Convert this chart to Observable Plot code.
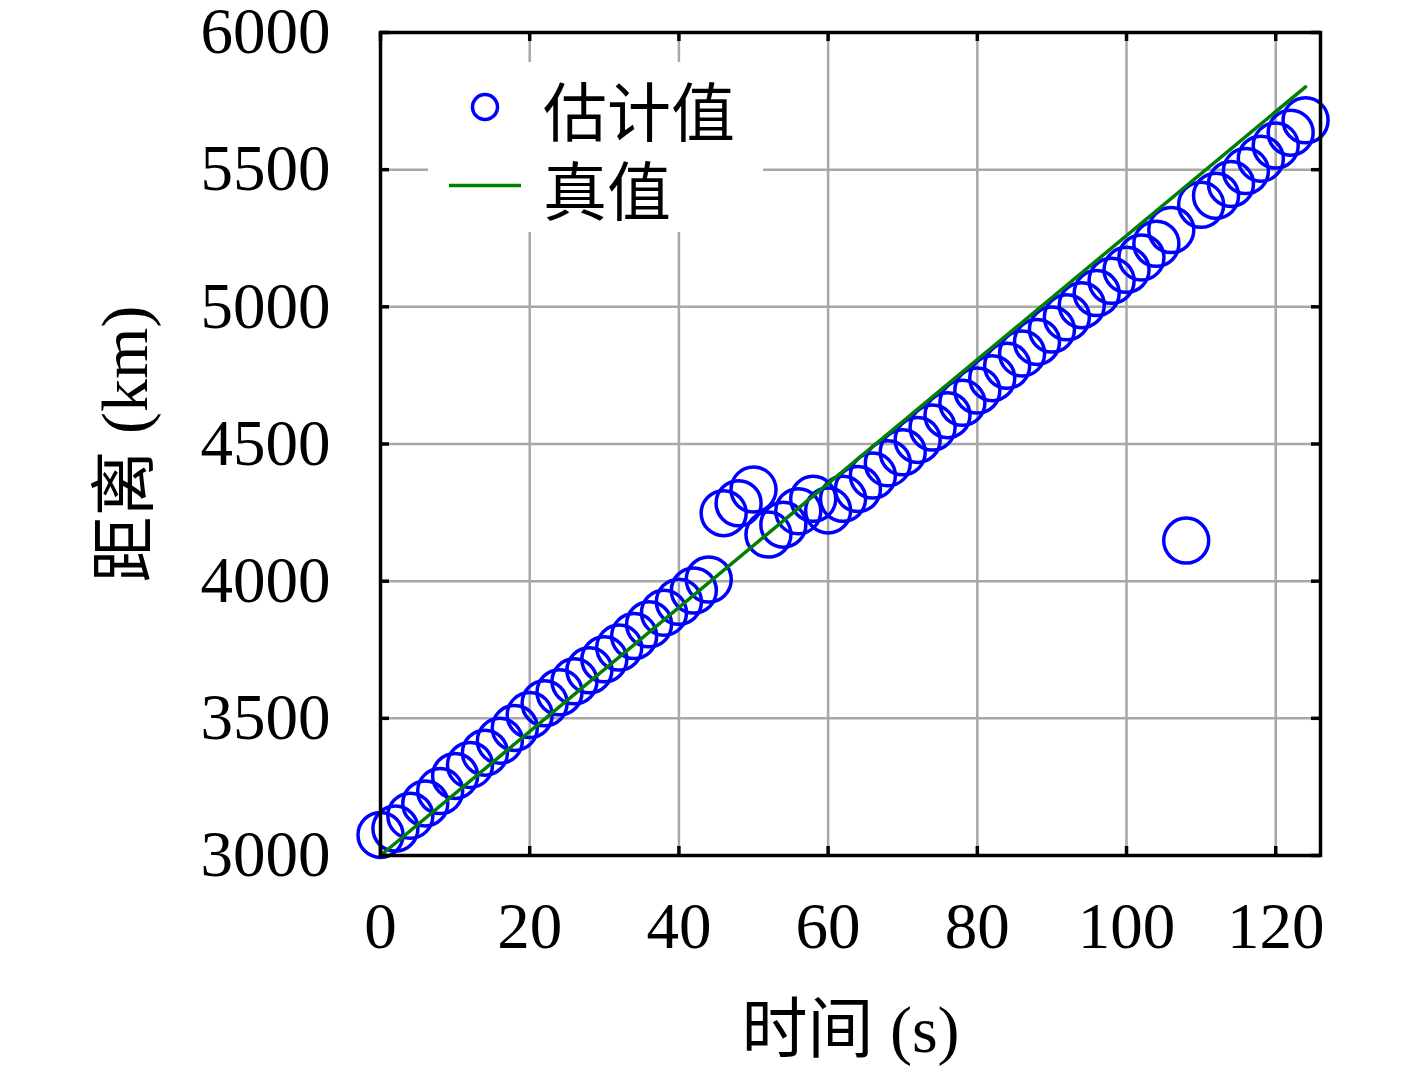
<!DOCTYPE html>
<html>
<head>
<meta charset="utf-8">
<script src="https://cdn.jsdelivr.net/npm/d3@7"></script>
<script src="https://cdn.jsdelivr.net/npm/@observablehq/plot@0.6"></script>
<style>
  html, body { margin: 0; padding: 0; background: white; }
  #wrap { position: relative; width: 1417px; height: 1073px; }
  #legend { position: absolute; left: 0; top: 0; pointer-events: none; }
</style>
</head>
<body>
<div id="wrap"></div>
<script>
// ---- data ----
const times = [0,2,4,6,8,10,12,14,16,18,20,22,24,26,28,30,32,34,36,38,40,42,44,46,48,50,52,54,56,58,60,62,64,66,68,70,72,74,76,78,80,82,84,86,88,90,92,94,96,98,100,102,104,106,108,110,112,114,116,118,120,122,124];
const estimates = [3075,3098,3145,3190,3235,3290,3330,3375,3418,3465,3512,3555,3595,3635,3675,3715,3758,3800,3843,3885,3925,3966,4006,4248,4284,4334,4170,4206,4255,4300,4258,4300,4336,4385,4430,4470,4515,4560,4605,4650,4695,4740,4785,4830,4872,4917,4962,5006,5050,5095,5135,5180,5230,5280,4148,5372,5405,5448,5495,5540,5588,5635,5680];
const trueTimes = [0, 124];
const trueValues = [3000, 5802];
const xTicks = [0,20,40,60,80,100,120];
const yTicks = [3000,3500,4000,4500,5000,5500,6000];
const xLabel = "时间 (s)";
const yLabel = "距离 (km)";
const legendLabels = ["估计值", "真值"];

const est = times.map((t, i) => ({t, v: estimates[i]}));
const truth = trueTimes.map((t, i) => ({t, v: trueValues[i]}));

const W = 1417, H = 1073;
const mL = 380, mR = 97, mT = 32, mB = 218;
const frameW = W - mL - mR, frameH = H - mT - mB;
const tickLen = 9;

const chart = Plot.plot({
  width: W, height: H,
  marginLeft: mL, marginRight: mR, marginTop: mT, marginBottom: mB,
  style: {fontFamily: "'Liberation Serif', 'Noto Sans CJK SC', serif", fontSize: "64px", background: "white", color: "black", overflow: "visible"},
  x: {domain: [0, 126]},
  y: {domain: [3000, 6000]},
  marks: [
    Plot.gridX(xTicks, {stroke: "#a8a8a8", strokeOpacity: 1, strokeWidth: 2.5}),
    Plot.gridY(yTicks, {stroke: "#a8a8a8", strokeOpacity: 1, strokeWidth: 2.5}),
    Plot.dot(est, {x: "t", y: "v", r: 22.5, stroke: "#0000ff", strokeWidth: 3.5, fill: "none"}),
    Plot.line(truth, {x: "t", y: "v", stroke: "#008000", strokeWidth: 3.5}),
    Plot.frame({stroke: "black", strokeWidth: 3.5}),
    Plot.tickY(yTicks, {y: d => d, insetRight: frameW - tickLen, stroke: "black", strokeWidth: 3.5}),
    Plot.tickY(yTicks, {y: d => d, insetLeft: frameW - tickLen, stroke: "black", strokeWidth: 3.5}),
    Plot.tickX(xTicks, {x: d => d, insetTop: frameH - tickLen, stroke: "black", strokeWidth: 3.5}),
    Plot.tickX(xTicks, {x: d => d, insetBottom: frameH - tickLen, stroke: "black", strokeWidth: 3.5}),
    Plot.axisX({ticks: xTicks, tickSize: 0, tickPadding: 46, fontSize: 65, label: null, tickFormat: d => String(d)}),
    Plot.axisY({ticks: yTicks, tickSize: 0, tickPadding: 50, fontSize: 65, label: null, tickFormat: d => String(d)}),
    Plot.text([xLabel], {text: d => d, frameAnchor: "bottom", textAnchor: "middle", dy: 175, lineAnchor: "middle", fontSize: 66}),
    Plot.text([yLabel], {text: d => d, frameAnchor: "left", textAnchor: "middle", dx: -255, rotate: -90, lineAnchor: "middle", fontSize: 66})
  ]
});

const wrap = document.getElementById("wrap");
wrap.appendChild(chart);

// legend overlay
const svg = d3.select(wrap).append("svg")
  .attr("id", "legend").attr("width", W).attr("height", H);
svg.append("rect").attr("x", 428).attr("y", 62).attr("width", 335).attr("height", 170).attr("fill", "white");
svg.append("circle").attr("cx", 485).attr("cy", 107).attr("r", 12.5)
  .attr("fill", "none").attr("stroke", "#0000ff").attr("stroke-width", 3.5);
svg.append("line").attr("x1", 449).attr("x2", 521).attr("y1", 185.5).attr("y2", 185.5)
  .attr("stroke", "#008000").attr("stroke-width", 3.5);
const ly = [108, 187];
legendLabels.forEach((s, i) => {
  svg.append("text").attr("x", 543).attr("y", ly[i])
    .attr("dominant-baseline", "central")
    .attr("font-family", "'Noto Sans CJK SC', sans-serif")
    .attr("font-size", 64).attr("fill", "black").text(s);
});
</script>
</body>
</html>
